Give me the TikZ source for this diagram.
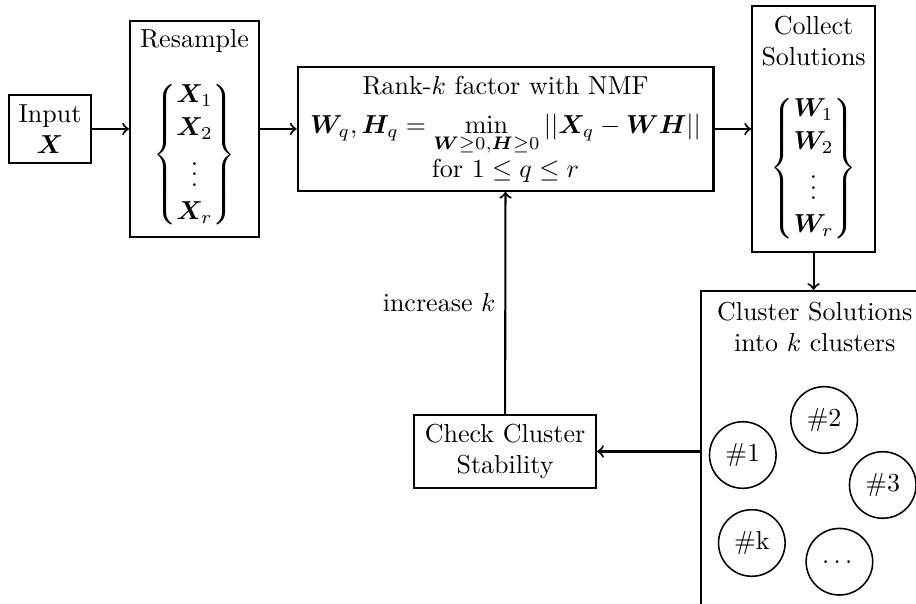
\documentclass[tikz,border=0pt]{standalone}
\usepackage{amsmath,bm}
\begin{document}
\begin{tikzpicture}[box/.style={draw,thick,align=center},
  clust/.style={draw,semithick,circle,minimum size=0.9cm,inner sep=0pt}]
\useasboundingbox (0,0) rectangle (12.38,8.15);
\node[box,minimum width=1.108cm,minimum height=0.92cm] (input) at (0.676,6.407) {Input\\ $\bm{X}$};
\node[box,minimum width=1.744cm,minimum height=2.88cm] (resample) at (2.629,6.407)
  {Resample\\[10pt] $\left\{\begin{matrix}\bm{X}_1\\[0.7pt] \bm{X}_2\\[0.7pt] \vdots\\[0.7pt] \bm{X}_r\end{matrix}\right\}$};
\node[box,minimum width=5.62cm,minimum height=1.595cm] (nmf) at (6.833,6.407)
  {Rank-$k$ factor with NMF\\[3pt] $\bm{W}_q,\bm{H}_q=\min\limits_{\bm{W}\geq 0,\bm{H}\geq 0}||\bm{X}_q-\bm{W}\bm{H}||$\\ for $1\leq q\leq r$};
\node[box,minimum width=1.663cm,minimum height=3.325cm] (collect) at (10.996,6.407)
  {Collect\\ Solutions\\[10pt] $\left\{\begin{matrix}\bm{W}_1\\[0.7pt] \bm{W}_2\\[0.7pt] \vdots\\[0.7pt] \bm{W}_r\end{matrix}\right\}$};
\node[box,anchor=north west,minimum width=3.07cm,minimum height=4.6cm] (cluster) at (9.462,4.231) {};
\node[align=center,below=1pt] (clustertitle) at (cluster.north) {Cluster Solutions\\ into $k$ clusters};
\node[box,minimum width=2.46cm,minimum height=0.987cm] (check) at (6.826,2.048) {Check Cluster\\ Stability};
\node[clust] (c1) at (10.039,2.0) {\#1};
\node[clust] (c2) at (11.138,2.474) {\#2};
\node[clust] (c3) at (11.931,1.595) {\#3};
\node[clust] (ck) at (10.161,0.811) {\#k};
\node[clust] (cdots) at (11.345,0.558) {$\dots$};
\draw[thick,->] (input) -- (resample);
\draw[thick,->] (resample) -- (nmf);
\draw[thick,->] (nmf) -- (collect);
\draw[thick,->] (collect.south) -- (collect.south |- cluster.north);
\draw[thick,->] (cluster.west |- check) -- (check.east);
\draw[thick,->] (check) -- (nmf) node[midway,left] {increase $k$};
\end{tikzpicture}
\end{document}
